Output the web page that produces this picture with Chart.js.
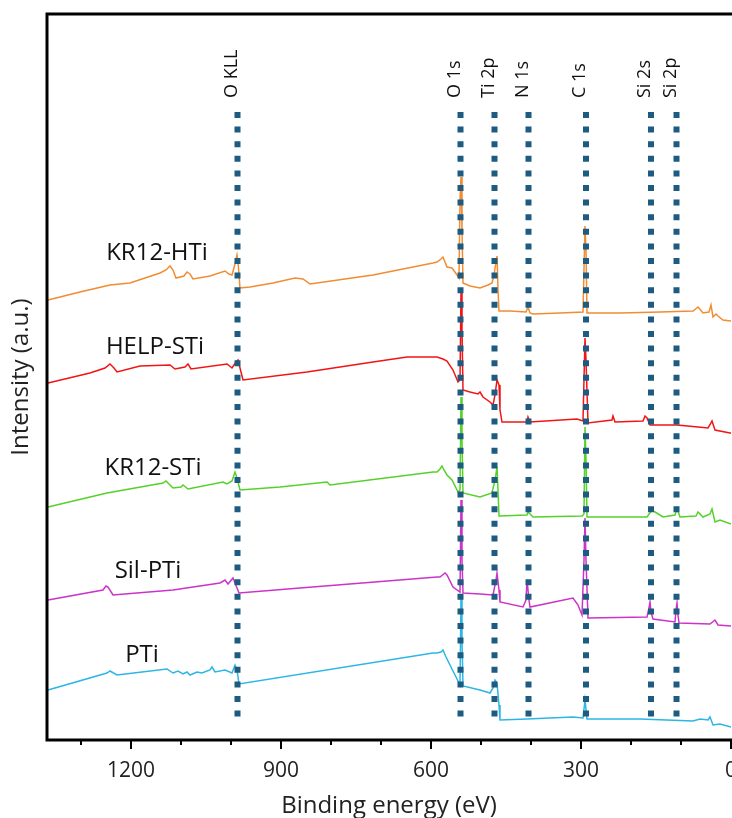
<!DOCTYPE html>
<html>
<head>
<meta charset="utf-8">
<script src="https://cdn.jsdelivr.net/npm/chart.js@4.4.1/dist/chart.umd.min.js"></script>
<style>
  html, body { margin: 0; padding: 0; background: #fff; overflow: hidden; }
  #wrap { width: 732px; height: 818px; }
</style>
</head>
<body>
<div id="wrap"><canvas id="xpsChart" width="732" height="818"></canvas></div>
<script>
// survey spectra, binding energy (eV) vs intensity (a.u., stacked)
const kr12htiBE = [1366,1302,1242,1202,1142,1130,1122,1116,1110,1094,1088,1082,1076,1042,1012,1004,998,992,988,986,982,962,916,872,856,842,716,596,588,580,576,572,568,558,548,544,542,540,538,536,522,502,486,478,474,470,468,466,464,442,410,406,402,396,342,296,292,290,288,222,142,76,66,56,44,40,36,30,26,16,0];
const kr12htiI  = [440,448,455,457,467,470,474,470,462,464,468,466,461,464,469,466,465,476,485,478,452,453,457,462,461,456,465,477,478,481,483,478,473,472,465,462,540,563,510,457,454,452,455,457,465,478,484,450,429,429,428,433,427,426,427,428,514,490,427,427,428,429,433,427,428,435,423,426,424,420,419];

const helpstiBE = [1366,1282,1252,1242,1234,1228,1182,1122,1112,1092,1086,1080,1008,998,990,986,982,976,848,716,648,588,576,568,556,546,542,540,538,536,522,506,502,496,482,476,472,468,464,462,458,408,406,402,308,296,292,290,286,238,236,232,176,172,168,162,108,66,46,40,38,32,2,0];
const helpstiI  = [357,367,372,376,372,368,374,375,371,373,376,371,376,372,378,380,372,360,368,378,383,383,381,379,370,358,360,447,410,350,348,346,348,343,338,335,345,360,355,330,318,318,323,318,321,319,402,380,317,320,324,318,319,324,322,315,315,313,312,317,319,310,307,307];

const kr12stiBE = [1366,1248,1136,1130,1126,1116,1100,1096,1086,1016,1008,998,992,988,982,902,808,802,596,588,582,578,574,568,558,546,542,540,538,536,502,478,472,468,466,464,408,406,396,298,294,292,290,288,168,158,152,136,112,108,102,70,66,56,42,38,32,22,0];
const kr12stiI  = [233,247,257,259,257,252,253,255,251,258,256,259,268,262,250,253,258,255,268,268,271,274,270,265,260,248,250,343,300,247,243,247,260,273,250,224,225,228,223,224,226,313,280,223,223,230,228,223,225,232,223,224,228,223,226,231,218,220,216];

const silptiBE = [1366,1256,1250,1246,1236,1116,1022,1012,1006,996,992,984,862,588,582,572,568,556,542,540,538,536,502,476,470,468,464,462,416,410,408,404,402,316,306,298,294,292,290,286,168,164,162,160,156,112,110,108,106,104,42,32,26,0];
const silptiI  = [140,150,154,153,145,150,157,160,156,162,157,147,152,163,163,167,165,153,148,240,180,147,146,145,160,167,150,138,133,140,160,140,133,142,135,125,180,222,180,122,123,132,138,128,121,118,130,137,125,117,116,120,115,114];

const ptiBE = [1366,1248,1242,1228,1128,1116,1106,1096,1088,1082,1068,1058,1042,1038,1032,1012,998,992,988,984,596,588,580,576,570,562,552,542,540,538,536,502,482,476,472,468,464,462,408,316,296,292,288,182,76,62,46,42,36,22,0];
const ptiI  = [50,67,69,65,71,67,69,66,68,65,68,67,70,73,68,70,67,75,70,56,87,87,88,90,83,75,65,55,142,100,54,50,47,52,60,57,35,20,21,23,22,40,21,21,19,21,20,23,15,16,13];

const seriesNames  = ['KR12-HTi', 'HELP-STi', 'KR12-STi', 'Sil-PTi', 'PTi'];
const seriesColors = ['#f28c30', '#f21414', '#55d22a', '#cc33c8', '#2cb6e6'];
// where each sample name sits (BE, intensity)
const nameBE = [1148, 1152, 1156, 1166, 1178];
const nameI  = [487, 393, 272, 169, 85];

// reference lines for the core levels
const peakNames = ['O KLL', 'O 1s', 'Ti 2p', 'N 1s', 'C 1s', 'Si 2s', 'Si 2p'];
const peakBE = [987, 541, 473, 405, 290, 160, 109];
const peakLineI = [628, 20];

const xTicks = [0, 300, 600, 900, 1200];
const xMinor = [100, 200, 400, 500, 700, 800, 1000, 1100, 1300];

const FONT = "'Open Sans', 'Liberation Sans', sans-serif";

function toPoints(xs, ys) {
    return xs.map((x, i) => ({ x: x, y: ys[i] }));
}

const spectra = [
    [kr12htiBE, kr12htiI],
    [helpstiBE, helpstiI],
    [kr12stiBE, kr12stiI],
    [silptiBE, silptiI],
    [ptiBE, ptiI]
];

const datasets = [];

peakBE.forEach(function(be) {
    datasets.push({
        data: peakLineI.map(v => ({ x: be, y: v })),
        borderColor: '#1d5b80',
        borderWidth: 6,
        borderDash: [6, 8.6],
        borderCapStyle: 'butt',
        pointRadius: 0,
        showLine: true,
        order: 0
    });
});

spectra.forEach(function(s, i) {
    datasets.push({
        label: seriesNames[i],
        data: toPoints(s[0], s[1]),
        borderColor: seriesColors[i],
        borderWidth: 1.5,
        pointRadius: 0,
        showLine: true,
        order: 1
    });
});

// black frame, tick marks and the text labels
const decorations = {
    id: 'decorations',
    afterDatasetsDraw(chart) {
        const ctx = chart.ctx;
        const area = chart.chartArea;
        const xs = chart.scales.x;
        const ys = chart.scales.y;

        ctx.save();
        ctx.strokeStyle = '#000';
        ctx.lineWidth = 3;
        ctx.beginPath();
        ctx.moveTo(chart.width, area.top);
        ctx.lineTo(area.left, area.top);
        ctx.lineTo(area.left, area.bottom);
        ctx.lineTo(chart.width, area.bottom);
        ctx.stroke();

        ctx.lineWidth = 2;
        ctx.beginPath();
        xTicks.forEach(function(v) {
            const px = xs.getPixelForValue(v);
            ctx.moveTo(px, area.bottom);
            ctx.lineTo(px, area.bottom + 9);
        });
        xMinor.forEach(function(v) {
            const px = xs.getPixelForValue(v);
            ctx.moveTo(px, area.bottom);
            ctx.lineTo(px, area.bottom + 5);
        });
        ctx.stroke();

        ctx.fillStyle = '#111';
        ctx.font = '24px ' + FONT;
        ctx.textAlign = 'center';
        ctx.textBaseline = 'middle';
        seriesNames.forEach(function(name, i) {
            ctx.fillText(name, xs.getPixelForValue(nameBE[i]), ys.getPixelForValue(nameI[i]));
        });

        ctx.font = '18px ' + FONT;
        ctx.textAlign = 'left';
        peakNames.forEach(function(name, i) {
            ctx.save();
            ctx.translate(xs.getPixelForValue(peakBE[i]) - 6, area.top + 84);
            ctx.rotate(-Math.PI / 2);
            ctx.fillText(name, 0, 0);
            ctx.restore();
        });
        ctx.restore();
    }
};

new Chart(document.getElementById('xpsChart').getContext('2d'), {
    type: 'scatter',
    data: { datasets: datasets },
    options: {
        responsive: false,
        animation: false,
        devicePixelRatio: 1,
        layout: { padding: { left: 0, top: 14, right: 1, bottom: 0 } },
        elements: { line: { tension: 0 } },
        plugins: {
            legend: { display: false },
            tooltip: { enabled: false }
        },
        scales: {
            x: {
                type: 'linear',
                reverse: true,
                min: 0,
                max: 1368,
                grid: { display: false, drawTicks: false },
                border: { display: false },
                ticks: {
                    stepSize: 300,
                    includeBounds: false,
                    autoSkip: false,
                    maxRotation: 0,
                    padding: 18,
                    color: '#222',
                    font: { family: FONT, size: 21 },
                    callback: function(value) { return String(value); }
                },
                title: {
                    display: true,
                    text: 'Binding energy (eV)',
                    color: '#222',
                    font: { family: FONT, size: 24, lineHeight: 1 },
                    padding: 0
                },
                afterFit: function(scale) {
                    scale.height = 78;
                    scale.paddingLeft = 0;
                    scale.paddingRight = 0;
                }
            },
            y: {
                min: 0,
                max: 726,
                grid: { display: false, drawTicks: false },
                border: { display: false },
                ticks: { display: false },
                title: {
                    display: true,
                    text: 'Intensity (a.u.)',
                    color: '#222',
                    font: { family: FONT, size: 24, lineHeight: 1 },
                    padding: { top: 9, bottom: 0 }
                },
                afterFit: function(scale) {
                    scale.width = 47;
                }
            }
        }
    },
    plugins: [decorations]
});
</script>
</body>
</html>
